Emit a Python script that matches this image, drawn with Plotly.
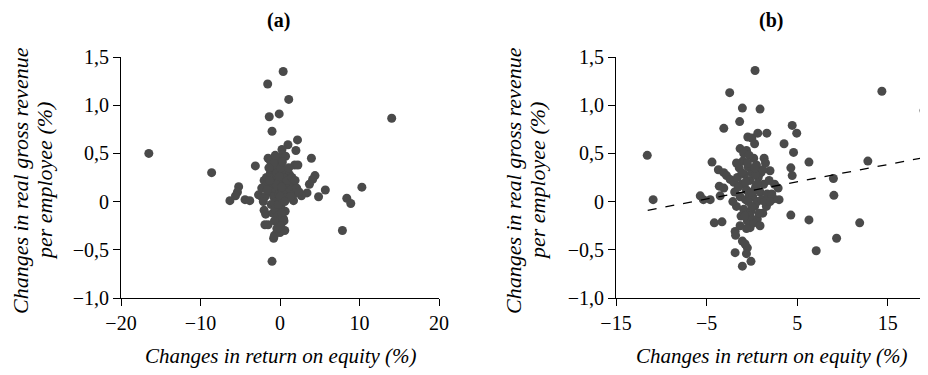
import plotly.graph_objects as go

# Panel (a) data
a_x = [-16.5, -8.6, -3.1, -5.2, -5.35, -5.6, -6.3, -4.4, -3.8, -2.7, -2.3, -1.55, 0.4, 1.1, -0.1, -1.35, -1.0,
       1.0, 0.25, 2.2, 2.0, -1.5, 1.85, 2.25, 3.95, 4.4, 4.1, 3.7, 5.7, 4.85, 3.4, 2.7, 1.7, 10.3, 8.4, 8.9,
       7.85, 14.05, -1.0, -0.8, -0.7, 0.0, 0.6, -2.0, -1.8, -1.9, -1.5, 0.65, 0.45, -0.3, 0.3, -0.5, 0.7,
       -2.0, -1.7, -1.5, -1.3, -1.2, -1.0, -0.9, -0.8, -0.7, -0.6, -0.5, -0.4, -0.3, -0.2, -0.1, 0.0, 0.1,
       0.2, 0.3, 0.4, 0.5, 0.6, 0.7, 0.8, 0.9, 1.0, 1.2, 1.4, 1.6, 1.8, 2.1, 2.4, -2.3, -1.9, -1.1, -0.9,
       -0.6, -0.3, 0.2, 0.5, -1.2, -0.4, 0.1, 0.3, -0.8, -1.4, 1.1, 1.3, -0.2, 0.0, -0.5, 0.4, -1.6, 0.9,
       -0.1, 1.5, -0.7, 0.2, -1.3, 0.6, -2.1, 1.9, -0.6, 0.1, -0.4]
a_y = [0.50, 0.30, 0.37, 0.155, 0.10, 0.06, 0.01, 0.02, 0.01, 0.07, 0.05, 1.22, 1.35, 1.06, 0.91, 0.88, 0.73,
       0.59, 0.54, 0.64, 0.53, 0.45, 0.38, 0.38, 0.45, 0.27, 0.23, 0.18, 0.12, 0.05, 0.09, 0.06, 0.01, 0.15,
       0.035, -0.02, -0.30, 0.865, -0.62, -0.38, -0.35, -0.32, -0.30, -0.09, -0.13, -0.24, -0.24, -0.10,
       -0.18, -0.22, 0.48, 0.43, 0.47,
       0.22, 0.25, 0.18, 0.10, 0.30, 0.20, 0.35, 0.05, 0.15, 0.28, 0.00, 0.12, 0.22, 0.38, 0.08, 0.18, -0.05,
       0.27, 0.12, 0.02, 0.20, 0.33, 0.10, 0.24, 0.04, 0.16, 0.28, 0.12, 0.20, 0.08, 0.14, 0.10, 0.14, 0.05,
       -0.03, -0.12, -0.08, -0.15, -0.12, -0.20, 0.42, 0.30, 0.35, 0.41, 0.40, 0.35, 0.35, 0.05, -0.03, 0.05,
       0.18, 0.25, 0.12, 0.22, 0.26, 0.25, -0.20, 0.15, 0.22, 0.00, 0.00, 0.22, 0.48, -0.25, -0.28]

# Panel (b) data
b_x = [-11.55, -10.9, -5.7, -5.35, -4.6, -4.4, -4.15, -3.3, -3.7, -3.1, -2.8, -3.6, -3.1, -3.5, -3.1, -2.45,
       -1.35, -1.05, 0.35, 0.9, -0.45, 0.0, 0.65, 1.65, 0.3, -1.3, -0.6, 1.35, 2.0, 3.55, 4.45, 4.95, 4.6,
       4.3, 4.45, 6.3, 2.5, 2.9, 3.0, 2.4, 4.3, 6.3, 7.1, 9.35, 9.0, 9.05, 11.9, 12.8, 14.35, 19.0, -1.85,
       -1.8, -1.85, -1.05, -0.75, -0.5, -0.6, -1.05, -0.1, -0.2, 1.2, 0.6, -2.4, -2.0,
       -1.9, -1.7, -1.6, -1.4, -1.3, -1.2, -1.1, -1.0, -0.9, -0.8, -0.7, -0.6, -0.5, -0.4, -0.3, -0.2, -0.1,
       0.0, 0.1, 0.2, 0.3, 0.4, 0.5, 0.6, 0.7, 0.8, 0.9, 1.0, 1.1, 1.3, 1.5, 1.7, 1.9, -1.5, -0.9, -0.3,
       0.2, -0.6, 0.9, -1.3, 0.0, -0.4, 0.4, -0.7, 1.2, -1.1, 0.6, -0.2, 1.6, -1.7, 0.0, -0.5, 0.3, -0.8,
       1.4, 2.2, 2.0, -2.1]
b_y = [0.48, 0.02, 0.06, 0.02, 0.02, 0.41, -0.22, -0.21, 0.33, 0.30, 0.27, 0.16, 0.14, 0.06, 0.76, 1.13,
       0.83, 0.97, 1.36, 0.96, 0.67, 0.66, 0.71, 0.71, 0.60, 0.55, 0.53, 0.45, 0.32, 0.60, 0.79, 0.71, 0.51,
       0.35, 0.27, 0.41, 0.18, 0.14, 0.02, 0.03, -0.14, -0.19, -0.51, -0.38, 0.24, 0.065, -0.22, 0.42, 1.145,
       0.945, -0.31, -0.35, -0.53, -0.41, -0.44, -0.48, -0.54, -0.67, -0.62, -0.27, -0.12, -0.18, 0.23, 0.20,
       0.10, -0.05, 0.25, 0.35, 0.05, -0.15, 0.18, 0.42, -0.08, 0.28, 0.02, 0.12, -0.20, 0.36, 0.08, 0.22,
       -0.10, 0.30, 0.05, 0.45, -0.05, 0.15, 0.38, 0.00, 0.25, -0.12, 0.10, 0.30, 0.02, 0.18, 0.40, 0.08,
       0.22, 0.15, 0.50, 0.48, -0.22, -0.28, -0.25, -0.25, 0.10, 0.00, 0.28, 0.20, 0.33, 0.30, 0.18, -0.15,
       -0.05, 0.40, -0.05, 0.40, 0.35, -0.15, 0.00, 0.08, 0.00, 0.00]

# Trend line of panel (b)
trend_x = [-11.5, 19.2]
trend_y = [-0.09, 0.46]

y_tickvals = [-1.0, -0.5, 0, 0.5, 1.0, 1.5]
y_ticktext = ["\u22121,0", "\u22120,5", "0", "0,5", "1,0", "1,5"]
a_xtickvals = [-20, -10, 0, 10, 20]
a_xticktext = ["\u221220", "\u221210", "0", "10", "20"]
b_xtickvals = [-15, -5, 5, 15]
b_xticktext = ["\u221215", "\u22125", "5", "15"]

y_title_lines = ["Changes in real gross revenue", "per employee (%)"]
x_title = "Changes in return on equity (%)"

FONT = "Liberation Serif, Times New Roman, serif"
DOT = "#4a4a4a"

# The page body has an 8px margin; size the figure so it fills the 928x375 window.
OFF = 8
W, H = 928 - OFF, 375 - OFF


def px(sx):
    return (sx - OFF) / W


def py(sy):
    return 1 - (sy - OFF) / H


fig = go.Figure()
fig.add_trace(go.Scatter(x=a_x, y=a_y, mode="markers", xaxis="x", yaxis="y",
                         marker=dict(size=9, color=DOT), showlegend=False, cliponaxis=False))
fig.add_trace(go.Scatter(x=b_x, y=b_y, mode="markers", xaxis="x2", yaxis="y2",
                         marker=dict(size=9, color=DOT), showlegend=False, cliponaxis=False))
fig.add_trace(go.Scatter(x=trend_x, y=trend_y, mode="lines", xaxis="x2", yaxis="y2",
                         line=dict(color="black", width=1.3, dash="dash"), showlegend=False))

axis_common = dict(showgrid=False, zeroline=False, showline=True, linecolor="black", linewidth=1,
                   ticks="outside", ticklen=7, tickcolor="black", tickwidth=1, automargin=False,
                   tickfont=dict(family=FONT, size=20, color="black"))
ydom = [py(298), py(57)]

fig.update_layout(
    width=W, height=H, margin=dict(l=0, r=0, t=0, b=0, pad=0, autoexpand=False),
    paper_bgcolor="white", plot_bgcolor="white",
    xaxis=dict(domain=[px(121), px(439)], range=[-20, 20], tickvals=a_xtickvals, ticktext=a_xticktext,
               anchor="y", **axis_common),
    yaxis=dict(domain=ydom, range=[-1.0, 1.5], tickvals=y_tickvals, ticktext=y_ticktext,
               anchor="x", **axis_common),
    xaxis2=dict(domain=[px(616), 1.0], range=[-15, 19.44], tickvals=b_xtickvals, ticktext=b_xticktext,
                anchor="y2", **axis_common),
    yaxis2=dict(domain=ydom, range=[-1.0, 1.5], tickvals=y_tickvals, ticktext=y_ticktext,
                anchor="x2", **axis_common),
)

title_font = dict(family=FONT, size=20, color="black")
lab_font = dict(family=FONT, size=21, color="black")
ylab_font = dict(family=FONT, size=22, color="black")
ann = []
for cx, lab in [(278, "<b>(a)</b>"), (771, "<b>(b)</b>")]:
    ann.append(dict(x=px(cx), y=py(20), xref="paper", yref="paper", text=lab, showarrow=False,
                    font=title_font, xanchor="center", yanchor="middle"))
for cx in [281, 772]:
    ann.append(dict(x=px(cx), y=py(356), xref="paper", yref="paper",
                    text="<i>" + x_title + "</i>", showarrow=False,
                    font=lab_font, xanchor="center", yanchor="middle"))
for cx1, cx2 in [(20, 44), (513, 537)]:
    for cx, line in zip((cx1, cx2), y_title_lines):
        ann.append(dict(x=px(cx), y=py(181), xref="paper", yref="paper", textangle=-90,
                        text="<i>" + line + "</i>", showarrow=False,
                        font=ylab_font, xanchor="center", yanchor="middle"))
fig.update_layout(annotations=ann)

fig.write_html("out.html")
